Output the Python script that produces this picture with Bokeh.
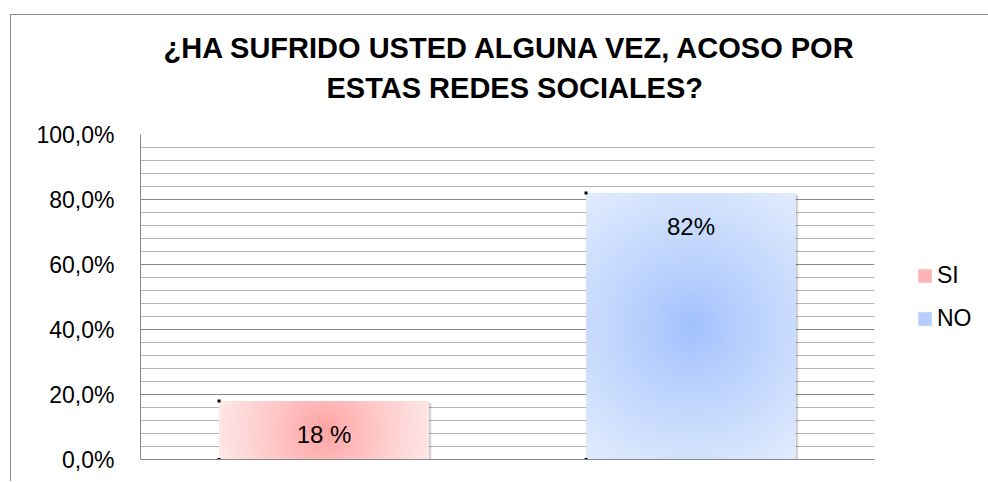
import numpy as np
from bokeh.plotting import figure
from bokeh.models import (Range1d, FixedTicker, LabelSet, Legend, Title,
                          LegendItem, ColumnDataSource)
from bokeh.core.properties import value
from bokeh.embed import file_html
from bokeh.resources import INLINE

# ---------------- data ----------------
categories = ["SI", "NO"]
values = [0.18, 0.82]
value_labels = ["18 %", "82%"]
y_ticks = [0.0, 0.2, 0.4, 0.6, 0.8, 1.0]
y_tick_labels = ["0,0%", "20,0%", "40,0%", "60,0%", "80,0%", "100,0%"]
title_lines = ["¿HA SUFRIDO USTED  ALGUNA VEZ,  ACOSO POR",
               "ESTAS REDES SOCIALES?"]

# ---------------- style ----------------
FONT = "Liberation Sans"
FRAME_W, FRAME_H = 734, 325
BAR_WIDTH = 0.572
center_rgb = [(255, 163, 163), (160, 193, 253)]
corner_rgb = [(255, 232, 232), (226, 236, 254)]
legend_colors = ["#ffb4b4", "#b4cdfc"]
MAJOR_GRID = "#888888"
MINOR_GRID = "#b4b4b4"

x_centers = [i + 0.5 for i in range(len(categories))]
minor_ticks = [round(i * 0.04, 2) for i in range(26)]

p = figure(frame_width=FRAME_W, frame_height=FRAME_H,
           x_range=Range1d(0, len(categories)), y_range=Range1d(0, 1),
           output_backend="svg", toolbar_location=None,
           min_border_left=129, min_border_right=113,
           min_border_top=119, min_border_bottom=22)
p.styles = {"margin-top": "14px", "margin-left": "10px",
            "border-top": "1px solid #8c8c8c",
            "border-left": "1px solid #8c8c8c"}
p.outline_line_color = None
p.background_fill_color = "white"
p.border_fill_color = "white"

# grid
p.xgrid.visible = False
p.ygrid.ticker = FixedTicker(ticks=y_ticks, minor_ticks=minor_ticks)
p.ygrid.grid_line_color = MAJOR_GRID
p.ygrid.grid_line_width = 1
p.ygrid.minor_grid_line_color = MINOR_GRID
p.ygrid.minor_grid_line_width = 1

# y axis
p.yaxis.ticker = FixedTicker(ticks=y_ticks)
p.yaxis.major_label_overrides = dict(zip(y_ticks, y_tick_labels))
p.yaxis.major_tick_line_color = None
p.yaxis.minor_tick_line_color = None
p.yaxis.major_tick_out = 0
p.yaxis.major_label_standoff = 26
p.yaxis.axis_line_color = MAJOR_GRID
p.yaxis.major_label_text_font = FONT
p.yaxis.major_label_text_font_size = "23px"
p.yaxis.major_label_text_color = "black"

# x axis (line only)
p.xaxis.ticker = FixedTicker(ticks=[])
p.xaxis.major_tick_line_color = None
p.xaxis.minor_tick_line_color = None
p.xaxis.axis_line_color = MAJOR_GRID
p.xaxis.major_label_text_font_size = "0px"

# shadows at right edge of bars
px_x = len(categories) / FRAME_W
px_y = 1.0 / FRAME_H
rights = [c + BAR_WIDTH / 2 for c in x_centers]
lefts = [c - BAR_WIDTH / 2 for c in x_centers]
for k, a in [(3, 0.06), (2, 0.08), (1, 0.10)]:
    p.quad(left=rights, right=[r + k * px_x for r in rights],
           bottom=[0] * len(values), top=[v - 2 * px_y for v in values],
           fill_color="black", fill_alpha=a, line_color=None)

# gradient-filled bars
imgs = []
for i, v in enumerate(values):
    wpx = int(round(BAR_WIDTH * FRAME_W / len(categories)))
    hpx = max(int(round(v * FRAME_H)), 1)
    yy, xx = np.mgrid[0:hpx, 0:wpx]
    cx, cy = (wpx - 1) / 2.0, (hpx - 1) / 2.0
    r = np.sqrt((xx - cx) ** 2 + (yy - cy) ** 2)
    t = (r / r.max()) ** 0.9
    img = np.empty((hpx, wpx), dtype=np.uint32)
    view = img.view(dtype=np.uint8).reshape((hpx, wpx, 4))
    for ch in range(3):
        view[:, :, ch] = np.clip(center_rgb[i][ch] + (corner_rgb[i][ch] - center_rgb[i][ch]) * t, 0, 255).astype(np.uint8)
    view[:, :, 3] = 255
    imgs.append(img)

p.image_rgba(image=imgs, x=lefts, y=[0] * len(values),
             dw=[BAR_WIDTH] * len(values), dh=values)

# small corner marks
p.scatter(x=lefts + lefts, y=values + [0] * len(values), marker="square",
          size=3, fill_color="black", line_color=None)

# value labels
lab_src = ColumnDataSource(dict(x=x_centers, y=values, text=value_labels))
p.add_layout(LabelSet(x="x", y="y", text="text", source=lab_src,
                      y_offset=-33, text_align="center",
                      text_baseline="middle", text_font=value(FONT),
                      text_font_size=value("24px"), text_color="black"))

# title (two lines; first added sits closest to the frame)
p.add_layout(Title(text=title_lines[1], align="left", offset=186,
                   standoff=61, text_font=FONT, text_font_style="bold",
                   text_font_size="29px", text_color="black"), "above")
p.add_layout(Title(text=title_lines[0], align="left", offset=23,
                   standoff=-49, text_font=FONT, text_font_style="bold",
                   text_font_size="29px", text_color="black"), "above")

# legend
items = []
for cat, col in zip(categories, legend_colors):
    rr = p.vbar(x=np.array([np.nan]), top=np.array([np.nan]), width=1,
                fill_color=col, line_color=None)
    items.append(LegendItem(label=cat, renderers=[rr]))
legend = Legend(items=items, location="left", margin=42, padding=0,
                border_line_color=None, background_fill_alpha=0,
                glyph_width=17, glyph_height=17, label_standoff=4,
                spacing=16, label_text_font=FONT,
                label_text_font_size="23px", label_text_color="black")
p.add_layout(legend, "right")

open("out.html", "w").write(file_html(p, INLINE))
